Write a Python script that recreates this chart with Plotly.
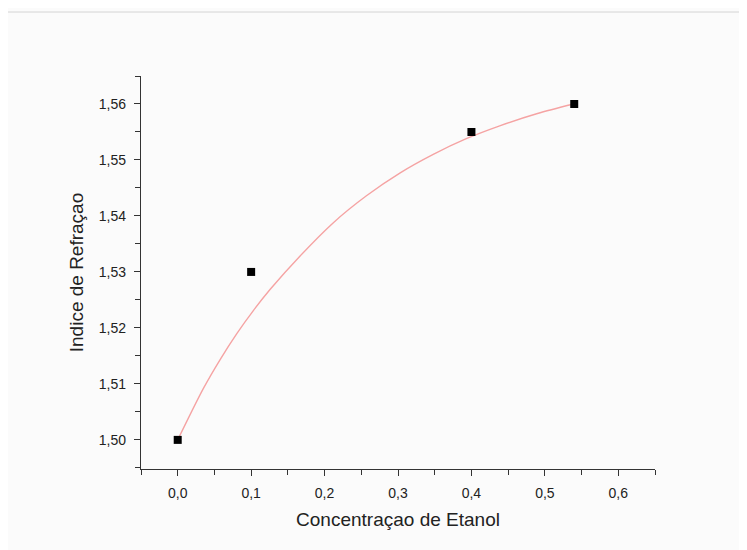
import plotly.graph_objects as go

# Measured data
conc = [0.0, 0.1, 0.4, 0.54]
indice = [1.500, 1.530, 1.555, 1.560]

# Fitted curve
fit_x = [0.0, 0.035, 0.058, 0.08, 0.103, 0.126, 0.167, 0.212, 0.257,
         0.303, 0.348, 0.393, 0.4385, 0.49, 0.539]
fit_y = [1.5000, 1.5092, 1.5144, 1.5189, 1.5231, 1.5269, 1.5329, 1.5388, 1.5436,
         1.5477, 1.5510, 1.5538, 1.5561, 1.5583, 1.5600]

x_ticks = [0.0, 0.1, 0.2, 0.3, 0.4, 0.5, 0.6]
y_ticks = [1.50, 1.51, 1.52, 1.53, 1.54, 1.55, 1.56]

font_family = "Liberation Sans, Arial, sans-serif"

fig = go.Figure()
fig.add_trace(go.Scatter(x=fit_x, y=fit_y, mode="lines",
                         line=dict(color="#f5a3a3", width=1.4, shape="spline", smoothing=0.8),
                         hoverinfo="skip", showlegend=False))
fig.add_trace(go.Scatter(x=conc, y=indice, mode="markers",
                         marker=dict(symbol="square", size=8, color="black"),
                         showlegend=False))

axis_common = dict(showgrid=False, zeroline=False, showline=True, linecolor="#333",
                   linewidth=1.3, ticks="outside", ticklen=6, tickwidth=1.3,
                   tickcolor="#333", mirror=False, ticklabelstandoff=5,
                   tickfont=dict(family=font_family, size=14, color="#222"))

fig.update_xaxes(range=[-0.05, 0.65], tickvals=x_ticks, tickformat=".1f",
                 minor=dict(ticks="outside", ticklen=5, tickwidth=1.3, tickcolor="#333", dtick=0.05),
                 title=dict(text="Concentraçao de Etanol",
                            font=dict(family=font_family, size=19, color="#222"), standoff=12),
                 **axis_common)
fig.update_yaxes(range=[1.4948, 1.565], tickvals=y_ticks, tickformat=".2f",
                 minor=dict(ticks="outside", ticklen=5, tickwidth=1.3, tickcolor="#333", dtick=0.005),
                 title=dict(text="Indice de Refraçao",
                            font=dict(family=font_family, size=19, color="#222"), standoff=10),
                 **axis_common)

fig.add_shape(type="line", xref="paper", yref="paper", x0=-133/514, x1=(747-133)/514,
              y0=457/393, y1=457/393, line=dict(color="#d4d4d4", width=1))

fig.update_layout(width=747, height=550, separators=",.",
                  margin=dict(l=133, r=100, t=68, b=89),
                  paper_bgcolor="#fbfbfb", plot_bgcolor="#fbfbfb",
                  font=dict(family=font_family))

fig.write_html("out.html")
